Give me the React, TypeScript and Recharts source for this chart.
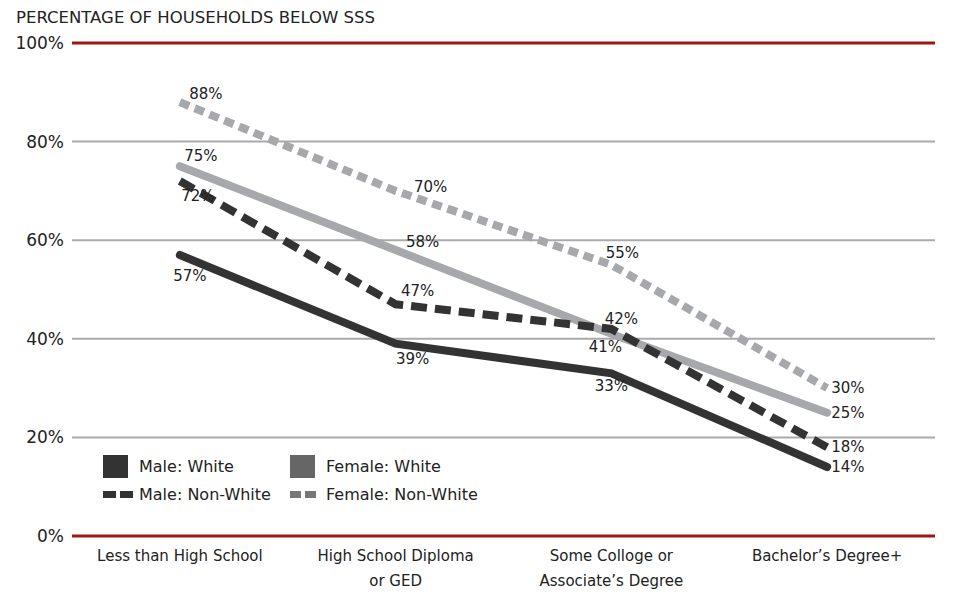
import React from 'react';
import {
  LineChart,
  Line,
  XAxis,
  YAxis,
  CartesianGrid,
  ReferenceLine,
} from 'recharts';

const CATEGORIES = [
  'Less than High School',
  'High School Diploma\nor GED',
  'Some Colloge or\nAssociate\u2019s Degree',
  'Bachelor\u2019s Degree+',
];

const MALE_WHITE = [57, 39, 33, 14];
const FEMALE_WHITE = [75, 58, 41, 25];
const MALE_NON_WHITE = [72, 47, 42, 18];
const FEMALE_NON_WHITE = [88, 70, 55, 30];

const Y_TICKS = [0, 20, 40, 60, 80, 100];

const data = CATEGORIES.map((name, i) => ({
  name,
  maleWhite: MALE_WHITE[i],
  femaleWhite: FEMALE_WHITE[i],
  maleNonWhite: MALE_NON_WHITE[i],
  femaleNonWhite: FEMALE_NON_WHITE[i],
}));

const DARK = '#333333';
const LIGHT = '#a7a8ab';
const RED = '#a01414';
const FONT = '"DejaVu Sans", Lato, sans-serif';

// label nudges relative to each point, null = put it to the right
type Nudge = [number, number] | null;
const NUDGES: Record<string, Nudge[]> = {
  maleWhite: [[10, 21], [17, 15], [0, 13], null],
  femaleWhite: [[21, -10], [27, -8], [-6, 13], null],
  maleNonWhite: [[18, 15], [22, -13], [10, -10], null],
  femaleNonWhite: [[26, -8], [35, -4], [11, -12], null],
};

const makeLabel = (key: string) => (props: any) => {
  const { x, y, value, index } = props;
  const n = NUDGES[key][index];
  const right = n === null;
  return (
    <text
      key={`${key}-${index}`}
      x={right ? x + 4 : x + n[0]}
      y={right ? y : y + n[1]}
      textAnchor={right ? 'start' : 'middle'}
      dominantBaseline="central"
      fontSize={15}
      fontFamily={FONT}
      fill="#222"
    >
      {value}%
    </text>
  );
};

const CategoryTick = (props: any) => {
  const { x, y, payload } = props;
  const lines = String(payload.value).split('\n');
  return (
    <text x={x} y={y} textAnchor="middle" fontSize={15} fontFamily={FONT} fill="#222">
      {lines.map((l, i) => (
        <tspan key={i} x={x} dy={25}>
          {l}
        </tspan>
      ))}
    </text>
  );
};

const Swatch = ({ color, dashed, big }: { color: string; dashed?: boolean; big?: number }) =>
  dashed ? (
    <span style={{ display: 'inline-flex', gap: 4, width: 30 }}>
      <span style={{ width: big, height: 7, background: color }} />
      <span style={{ width: big, height: 7, background: color }} />
    </span>
  ) : (
    <span style={{ width: 25, height: 23, background: color, display: 'inline-block' }} />
  );

const legendItems = [
  { label: 'Male: White', color: DARK, left: 103, top: 455 },
  { label: 'Female: White', color: '#666666', left: 290, top: 455 },
  { label: 'Male: Non-White', color: DARK, left: 103, top: 483, dashed: true, big: 13 },
  { label: 'Female: Non-White', color: '#777777', left: 290, top: 483, dashed: true, big: 11 },
];

export default function App() {
  return (
    <div style={{ position: 'relative', width: 956, height: 592, background: '#fff', fontFamily: FONT }}>
      <style>{'body{margin:0}'}</style>
      <div
        style={{
          position: 'absolute',
          left: 16,
          top: 8,
          fontSize: 16.5,
          color: '#222',
        }}
      >
        PERCENTAGE OF HOUSEHOLDS BELOW SSS
      </div>
      <LineChart
        width={956}
        height={592}
        data={data}
        margin={{ top: 43, right: 21, left: 0, bottom: 0 }}
      >
        <CartesianGrid vertical={false} stroke="#aaaaaa" strokeWidth={2} />
        <XAxis
          dataKey="name"
          scale="band"
          axisLine={false}
          tickLine={false}
          tickSize={0}
          tickMargin={0}
          height={56}
          interval={0}
          tick={<CategoryTick />}
        />
        <YAxis
          domain={[0, 100]}
          ticks={Y_TICKS}
          width={72}
          axisLine={false}
          tickLine={false}
          tickMargin={2}
          tickFormatter={(v: number) => `${v}%`}
          tick={{ fontSize: 17, fill: '#222', fontFamily: FONT }}
        />
        <ReferenceLine y={0} stroke={RED} strokeWidth={3} />
        <ReferenceLine y={100} stroke={RED} strokeWidth={3} />
        <Line
          dataKey="femaleNonWhite"
          stroke={LIGHT}
          strokeWidth={8}
          strokeDasharray="10 6"
          dot={false}
          isAnimationActive={false}
          label={makeLabel('femaleNonWhite')}
        />
        <Line
          dataKey="femaleWhite"
          stroke={LIGHT}
          strokeWidth={8}
          strokeLinecap="round"
          dot={false}
          isAnimationActive={false}
          label={makeLabel('femaleWhite')}
        />
        <Line
          dataKey="maleNonWhite"
          stroke={DARK}
          strokeWidth={8}
          strokeDasharray="16 8"
          dot={false}
          isAnimationActive={false}
          label={makeLabel('maleNonWhite')}
        />
        <Line
          dataKey="maleWhite"
          stroke={DARK}
          strokeWidth={8}
          strokeLinecap="round"
          dot={false}
          isAnimationActive={false}
          label={makeLabel('maleWhite')}
        />
      </LineChart>
      {legendItems.map((it) => (
        <div
          key={it.label}
          style={{
            position: 'absolute',
            left: it.left,
            top: it.top,
            height: 23,
            display: 'flex',
            alignItems: 'center',
            fontSize: 16,
            color: '#222',
          }}
        >
          <Swatch color={it.color} dashed={it.dashed} big={it.big} />
          <span style={{ marginLeft: it.dashed ? 6 : 11 }}>{it.label}</span>
        </div>
      ))}
    </div>
  );
}
